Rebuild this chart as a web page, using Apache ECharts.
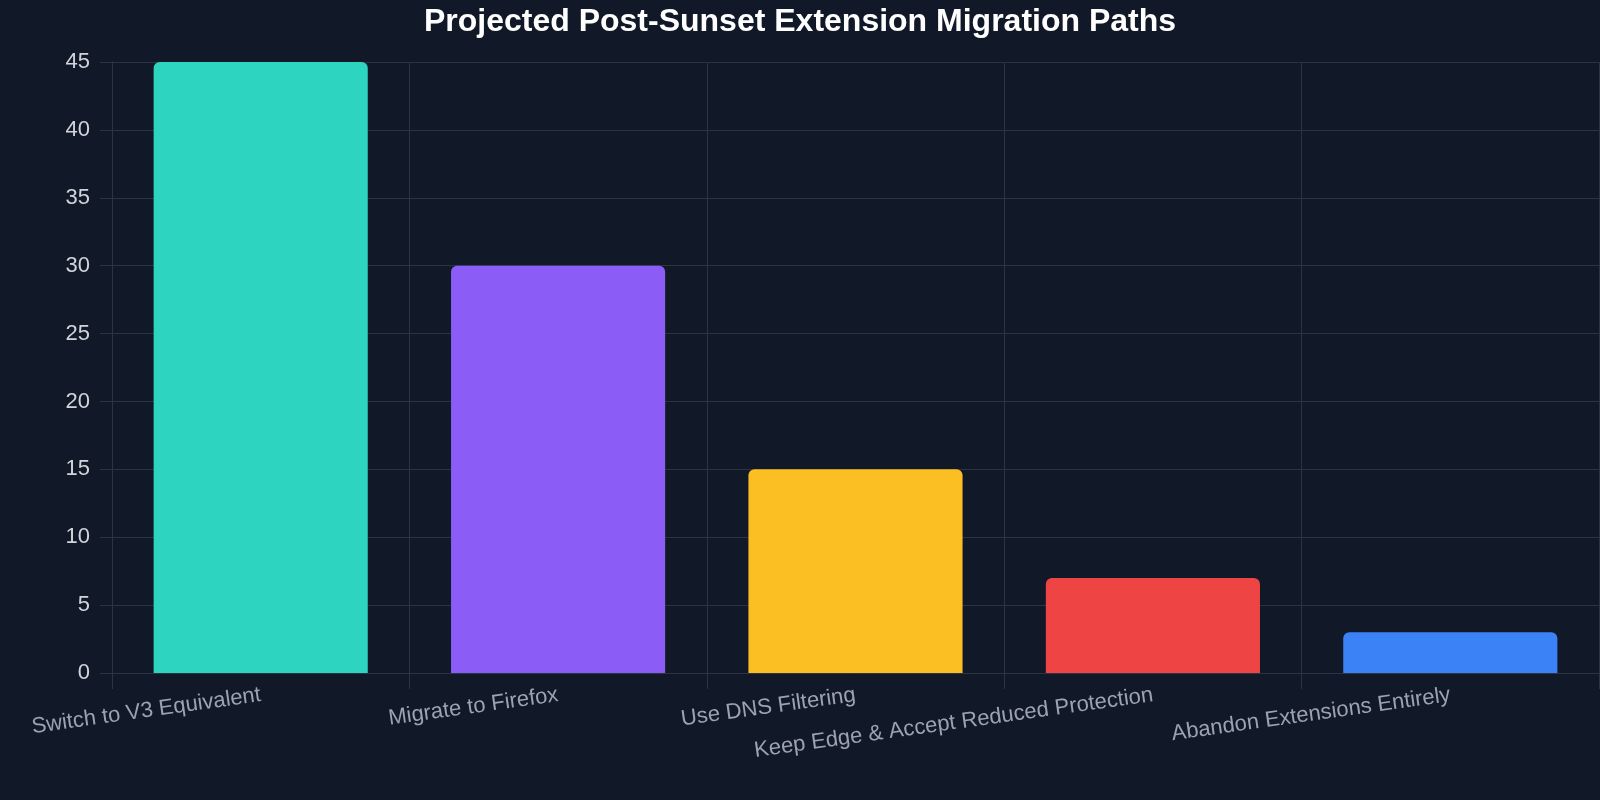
<!DOCTYPE html>
<html><head><meta charset="utf-8">
<script src="https://cdn.jsdelivr.net/npm/echarts@6/dist/echarts.min.js"></script>
<style>html,body{margin:0;background:#111827}#c{width:1600px;height:800px}</style>
</head><body><div id="c"></div>
<script>
const categories = ["Switch to V3 Equivalent","Migrate to Firefox","Use DNS Filtering","Keep Edge & Accept Reduced Protection","Abandon Extensions Entirely"];
const values = [45, 30, 15, 7, 3];
const colors = ["#2dd4bf","#8b5cf6","#fbbf24","#ef4444","#3b82f6"];
const chart = echarts.init(document.getElementById('c'));
chart.setOption({
  backgroundColor:'#111827',
  animation:false,
  title:{text:'Projected Post-Sunset Extension Migration Paths',left:'center',top:1,
    textStyle:{color:'#ffffff',fontSize:32,fontWeight:'bold',fontFamily:'Liberation Sans'}},
  grid:{left:112,right:1,top:62,bottom:127},
  xAxis:{type:'category',data:categories,
    axisLine:{lineStyle:{color:'#2b3443'}},
    axisTick:{show:true,length:16,lineStyle:{color:'#2b3443'}},
    splitLine:{show:true,lineStyle:{color:'#2b3443'}},
    axisLabel:{rotate:8,color:'#9ca3af',fontSize:22,fontFamily:'Liberation Sans',margin:22,interval:0}},
  yAxis:{type:'value',min:0,max:45,interval:5,
    axisLine:{show:true,lineStyle:{color:'#2b3443'}},
    axisTick:{show:true,length:12,lineStyle:{color:'#2b3443'}},
    splitLine:{lineStyle:{color:'#2b3443'}},
    axisLabel:{color:'#d1d5db',fontSize:22,fontFamily:'Liberation Sans',margin:22}},
  series:[{type:'bar',barWidth:'72%',
    data:values.map((v,i)=>({value:v,itemStyle:{color:colors[i]}})),
    itemStyle:{borderRadius:[6,6,0,0]}}]
});
</script></body></html>
